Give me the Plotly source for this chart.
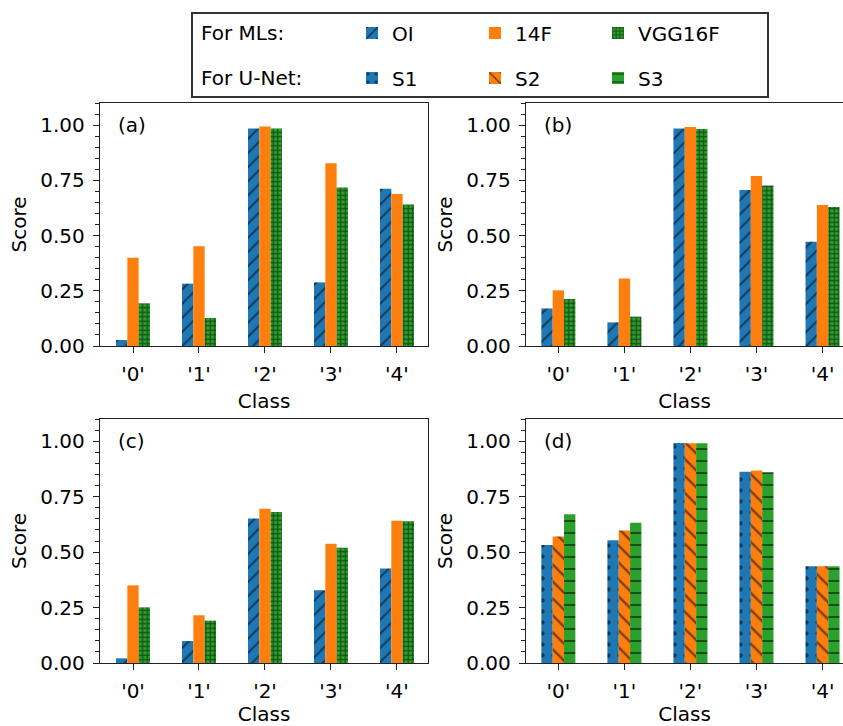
import plotly.graph_objects as go
from plotly.subplots import make_subplots

classes = ["'0'", "'1'", "'2'", "'3'", "'4'"]

# Panel (a) - MLs
a_OI = [0.027, 0.282, 0.985, 0.288, 0.712]
a_14F = [0.400, 0.452, 0.994, 0.827, 0.688]
a_VGG = [0.193, 0.127, 0.985, 0.718, 0.641]
# Panel (b) - MLs
b_OI = [0.170, 0.107, 0.985, 0.706, 0.472]
b_14F = [0.252, 0.305, 0.991, 0.769, 0.638]
b_VGG = [0.213, 0.133, 0.982, 0.727, 0.629]
# Panel (c) - MLs
c_OI = [0.021, 0.099, 0.651, 0.328, 0.426]
c_14F = [0.350, 0.215, 0.695, 0.538, 0.641]
c_VGG = [0.251, 0.191, 0.681, 0.520, 0.639]
# Panel (d) - U-Net
d_S1 = [0.532, 0.553, 0.992, 0.862, 0.436]
d_S2 = [0.570, 0.597, 0.991, 0.868, 0.436]
d_S3 = [0.671, 0.632, 0.991, 0.860, 0.436]

panel_labels = ["(a)", "(b)", "(c)", "(d)"]
ml_names = ["OI", "14F", "VGG16F"]
unet_names = ["S1", "S2", "S3"]

BLUE, ORANGE, GREEN = "#1f77b4", "#ff7f0e", "#2ca02c"
FONT = "DejaVu Sans"
FS = 20
W, H = 843, 726

ml_styles = [
    dict(color=BLUE, pattern=dict(shape="/", fgcolor="black", size=10, solidity=0.2)),
    dict(color=ORANGE, pattern=dict(shape="", fgcolor="black")),
    dict(color=GREEN, pattern=dict(shape="+", fgcolor="black", size=4.5, solidity=0.45)),
]
unet_styles = [
    dict(color=BLUE, pattern=dict(shape=".", fgcolor="black", size=11, solidity=0.12)),
    dict(color=ORANGE, pattern=dict(shape="\\", fgcolor="black", size=12, solidity=0.2)),
    dict(color=GREEN, pattern=dict(shape="-", fgcolor="black", size=12, solidity=0.17)),
]

fig = make_subplots(rows=2, cols=2)

ml_panels = [(1, 1, [a_OI, a_14F, a_VGG]), (1, 2, [b_OI, b_14F, b_VGG]), (2, 1, [c_OI, c_14F, c_VGG])]
for pi, (r, c, series) in enumerate(ml_panels):
    for name, vals, st in zip(ml_names, series, ml_styles):
        fig.add_trace(go.Bar(
            x=classes, y=vals, name=name, legend="legend",
            showlegend=(pi == 0), legendgroup=name,
            marker=dict(color=st["color"], pattern=st["pattern"], line=dict(width=0)),
        ), row=r, col=c)

for name, vals, st in zip(unet_names, [d_S1, d_S2, d_S3], unet_styles):
    fig.add_trace(go.Bar(
        x=classes, y=vals, name=name, legend="legend2",
        showlegend=True, legendgroup=name,
        marker=dict(color=st["color"], pattern=st["pattern"], line=dict(width=0)),
    ), row=2, col=2)

# Domains in pixels
xdom_left = [100 / W, 428 / W]
xdom_right = [526 / W, 1.0]
ydom_top = [1 - 346 / H, 1 - 103 / H]
ydom_bot = [1 - 663 / H, 1 - 419 / H]

axis_common = dict(
    showline=True, linecolor="#222", linewidth=1.4, mirror=True,
    ticks="outside", ticklen=6, tickwidth=1.2, tickcolor="#222",
    showgrid=False, zeroline=False, automargin=False,
    tickfont=dict(family=FONT, size=FS, color="black"),
)

xaxes = [("xaxis", xdom_left, ydom_top, [-0.5, 4.47]),
         ("xaxis2", xdom_right, ydom_top, [-0.49, 4.31]),
         ("xaxis3", xdom_left, ydom_bot, [-0.5, 4.47]),
         ("xaxis4", xdom_right, ydom_bot, [-0.49, 4.31])]
yaxes = ["yaxis", "yaxis2", "yaxis3", "yaxis4"]

for (xa, xd, yd, xr), ya in zip(xaxes, yaxes):
    fig.layout[xa].update(
        domain=xd, range=xr, type="category", **axis_common,
        ticklabelstandoff=4,
        title=dict(text="Class", font=dict(family=FONT, size=FS, color="black"), standoff=8),
    )
    fig.layout[ya].update(
        domain=yd, range=[0, 1.1], **axis_common,
        ticklabelstandoff=4,
        tickvals=[0, 0.25, 0.5, 0.75, 1.0], tickformat=".2f",
        minor=dict(dtick=0.05, ticks="outside", ticklen=3.5, tickwidth=1, tickcolor="#222"),
        title=dict(text="Score", font=dict(family=FONT, size=FS, color="black"), standoff=8),
    )

annotations = []
for i, lab in enumerate(panel_labels):
    sfx = "" if i == 0 else str(i + 1)
    annotations.append(dict(
        text=lab, xref=f"x{sfx} domain", yref=f"y{sfx}", x=0.05, y=1.0,
        xanchor="left", yanchor="middle", showarrow=False,
        font=dict(family=FONT, size=FS, color="black"),
    ))
# Legend row labels
annotations.append(dict(text="For MLs:", xref="paper", yref="paper", x=199 / W, y=1 - 33 / H,
                        xanchor="left", yanchor="middle", showarrow=False,
                        font=dict(family=FONT, size=FS, color="black")))
annotations.append(dict(text="For U-Net:", xref="paper", yref="paper", x=199 / W, y=1 - 78 / H,
                        xanchor="left", yanchor="middle", showarrow=False,
                        font=dict(family=FONT, size=FS, color="black")))

legend_common = dict(
    orientation="h", xanchor="left", yanchor="middle",
    bgcolor="rgba(0,0,0,0)", borderwidth=0,
    font=dict(family=FONT, size=FS, color="black"),
    entrywidth=78, entrywidthmode="pixels", traceorder="normal",
)

fig.update_layout(
    width=W, height=H,
    margin=dict(l=0, r=0, t=0, b=0, autoexpand=False),
    paper_bgcolor="white", plot_bgcolor="white",
    barmode="group", bargap=0.485, bargroupgap=0,
    font=dict(family=FONT, size=FS, color="black"),
    annotations=annotations,
    legend=dict(x=352 / W, y=1 - 33 / H, **legend_common),
    legend2=dict(x=352 / W, y=1 - 78 / H, **legend_common),
    shapes=[dict(type="rect", xref="paper", yref="paper",
                 x0=192 / W, x1=768 / W, y0=1 - 97 / H, y1=1 - 13 / H,
                 line=dict(color="#333", width=2), fillcolor="rgba(0,0,0,0)")],
)

fig.write_html("out.html", config={"displayModeBar": False},
               post_script="document.body.style.margin='0px';")
